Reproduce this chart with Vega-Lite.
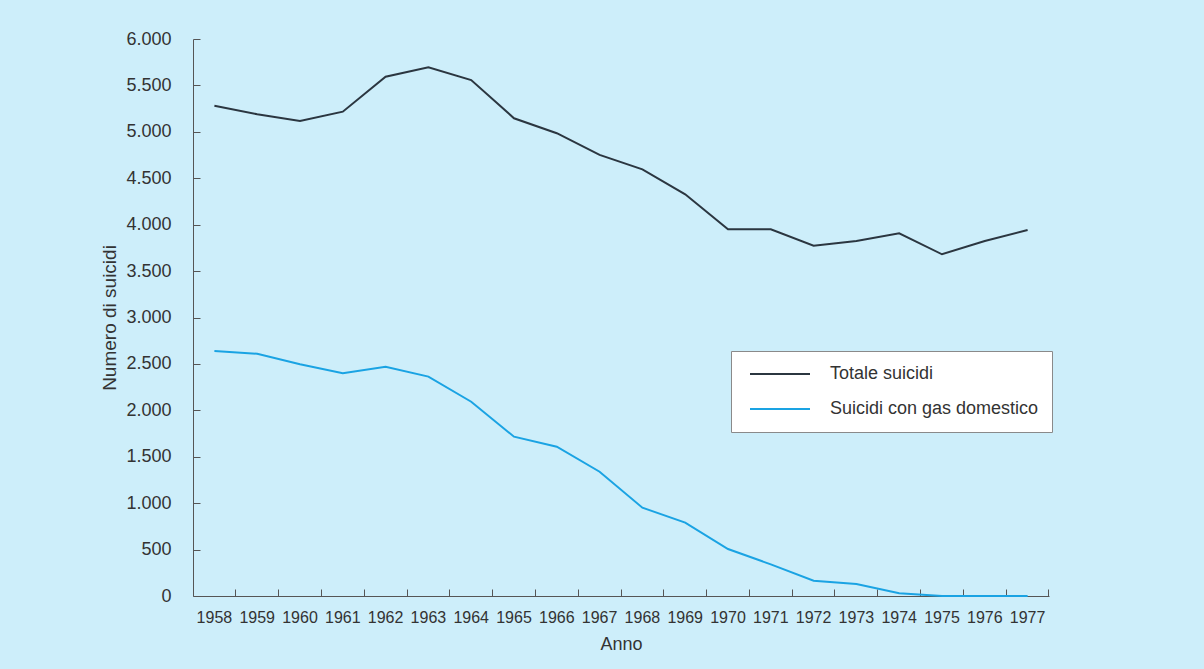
{
  "$schema": "https://vega.github.io/schema/vega-lite/v6.json",
  "autosize": "none",
  "width": 856,
  "height": 557,
  "padding": {"left": 193, "top": 39, "right": 155, "bottom": 73},
  "background": "#cdeefa",
  "config": {
    "view": {"stroke": null},
    "font": "Liberation Sans",
    "axis": {
      "labelFont": "Liberation Sans",
      "titleFont": "Liberation Sans",
      "labelColor": "#333333",
      "titleColor": "#333333",
      "domainColor": "#555555",
      "tickColor": "#555555",
      "grid": false,
      "titleFontWeight": "normal"
    },
    "legend": {"labelFont": "Liberation Sans"}
  },
  "data": {
    "values": [
      {"anno": "1958", "serie": "Totale suicidi", "valore": 5282},
      {"anno": "1959", "serie": "Totale suicidi", "valore": 5189},
      {"anno": "1960", "serie": "Totale suicidi", "valore": 5117},
      {"anno": "1961", "serie": "Totale suicidi", "valore": 5217},
      {"anno": "1962", "serie": "Totale suicidi", "valore": 5594},
      {"anno": "1963", "serie": "Totale suicidi", "valore": 5695},
      {"anno": "1964", "serie": "Totale suicidi", "valore": 5558},
      {"anno": "1965", "serie": "Totale suicidi", "valore": 5146},
      {"anno": "1966", "serie": "Totale suicidi", "valore": 4985},
      {"anno": "1967", "serie": "Totale suicidi", "valore": 4751},
      {"anno": "1968", "serie": "Totale suicidi", "valore": 4596},
      {"anno": "1969", "serie": "Totale suicidi", "valore": 4327},
      {"anno": "1970", "serie": "Totale suicidi", "valore": 3950},
      {"anno": "1971", "serie": "Totale suicidi", "valore": 3950},
      {"anno": "1972", "serie": "Totale suicidi", "valore": 3774},
      {"anno": "1973", "serie": "Totale suicidi", "valore": 3824},
      {"anno": "1974", "serie": "Totale suicidi", "valore": 3907},
      {"anno": "1975", "serie": "Totale suicidi", "valore": 3681},
      {"anno": "1976", "serie": "Totale suicidi", "valore": 3824},
      {"anno": "1977", "serie": "Totale suicidi", "valore": 3943},
      {"anno": "1958", "serie": "Suicidi con gas domestico", "valore": 2639},
      {"anno": "1959", "serie": "Suicidi con gas domestico", "valore": 2610},
      {"anno": "1960", "serie": "Suicidi con gas domestico", "valore": 2496},
      {"anno": "1961", "serie": "Suicidi con gas domestico", "valore": 2399},
      {"anno": "1962", "serie": "Suicidi con gas domestico", "valore": 2470},
      {"anno": "1963", "serie": "Suicidi con gas domestico", "valore": 2363},
      {"anno": "1964", "serie": "Suicidi con gas domestico", "valore": 2093},
      {"anno": "1965", "serie": "Suicidi con gas domestico", "valore": 1716},
      {"anno": "1966", "serie": "Suicidi con gas domestico", "valore": 1608},
      {"anno": "1967", "serie": "Suicidi con gas domestico", "valore": 1339},
      {"anno": "1968", "serie": "Suicidi con gas domestico", "valore": 951},
      {"anno": "1969", "serie": "Suicidi con gas domestico", "valore": 790},
      {"anno": "1970", "serie": "Suicidi con gas domestico", "valore": 506},
      {"anno": "1971", "serie": "Suicidi con gas domestico", "valore": 341},
      {"anno": "1972", "serie": "Suicidi con gas domestico", "valore": 165},
      {"anno": "1973", "serie": "Suicidi con gas domestico", "valore": 129},
      {"anno": "1974", "serie": "Suicidi con gas domestico", "valore": 29},
      {"anno": "1975", "serie": "Suicidi con gas domestico", "valore": 0},
      {"anno": "1976", "serie": "Suicidi con gas domestico", "valore": 0},
      {"anno": "1977", "serie": "Suicidi con gas domestico", "valore": 0}
    ]
  },
  "mark": {"type": "line", "strokeWidth": 2},
  "encoding": {
    "x": {
      "field": "anno",
      "type": "ordinal",
      "scale": {"type": "band", "paddingInner": 0, "paddingOuter": 0},
      "axis": {
        "title": "Anno",
        "labelAngle": 0,
        "labelFontSize": 16,
        "titleFontSize": 18,
        "bandPosition": 1,
        "tickSize": -7,
        "labelPadding": 20,
        "titlePadding": 10
      }
    },
    "y": {
      "field": "valore",
      "type": "quantitative",
      "scale": {"domain": [0, 6000], "nice": false},
      "axis": {
        "title": "Numero di suicidi",
        "values": [0, 500, 1000, 1500, 2000, 2500, 3000, 3500, 4000, 4500, 5000, 5500, 6000],
        "labelExpr": "replace(format(datum.value, ','), ',', '.')",
        "labelFontSize": 18,
        "titleFontSize": 19,
        "tickSize": -7,
        "labelPadding": 29,
        "titlePadding": 6
      }
    },
    "color": {
      "field": "serie",
      "type": "nominal",
      "sort": ["Totale suicidi", "Suicidi con gas domestico"],
      "scale": {"domain": ["Totale suicidi", "Suicidi con gas domestico"], "range": ["#2b3640", "#1aa3e3"]},
      "legend": {
        "title": null,
        "orient": "none",
        "legendX": 538,
        "legendY": 312,
        "fillColor": "#ffffff",
        "strokeColor": "#8a8a8a",
        "padding": 13,
        "clipHeight": 20,
        "symbolType": "stroke",
        "symbolSize": 3600,
        "symbolStrokeWidth": 2,
        "symbolOffset": 5,
        "labelFontSize": 18,
        "labelLimit": 400,
        "labelColor": "#333333",
        "labelOffset": 19,
        "rowPadding": 15
      }
    }
  }
}
